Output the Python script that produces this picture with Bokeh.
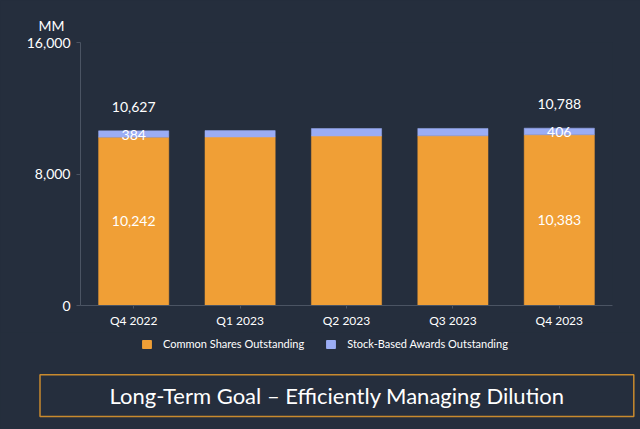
from bokeh.plotting import figure
from bokeh.layouts import column
from bokeh.models import (ColumnDataSource, FactorRange, Range1d, FixedTicker,
                          NumeralTickFormatter, Legend, LegendItem,
                          GlobalInlineStyleSheet)
from bokeh.core.properties import value
from bokeh.embed import file_html
from bokeh.resources import INLINE

# ---- data ----
quarters = ["Q4 2022", "Q1 2023", "Q2 2023", "Q3 2023", "Q4 2023"]
common_shares = [10242, 10250, 10310, 10320, 10383]
stock_awards = [384, 390, 455, 450, 406]
total_shares = [10627, 10640, 10765, 10770, 10788]
y_ticks = [0, 8000, 16000]
labelled = [0, 4]
series_names = ["Common Shares Outstanding", "Stock-Based Awards Outstanding"]
title_text = "Long-Term Goal \u2013 Efficiently Managing Dilution"
unit_text = "MM"

BG = "#252e3d"
ORANGE = "#f09f36"
BLUE = "#9badf5"
BORDER = "#c98a2e"
AXIS = "#4b5463"
FONT = "Lato"

W = 640
H1 = 332
H2 = 429 - H1

src = ColumnDataSource(dict(q=quarters, common=common_shares, sba=stock_awards))

p = figure(width=W, height=H1, output_backend="svg", toolbar_location=None,
           x_range=FactorRange(factors=quarters, range_padding=0),
           y_range=Range1d(0, 16000),
           min_border_left=80, min_border_right=28, min_border_top=42,
           min_border_bottom=27)
p.frame_align = False
p.background_fill_color = BG
p.border_fill_color = BG
p.outline_line_color = None
p.xgrid.visible = False
p.ygrid.visible = False

p.title.text = unit_text
p.title.align = "left"
p.title.offset = -42
p.title.standoff = 18
p.title.text_color = "white"
p.title.text_font = FONT
p.title.text_font_size = "14px"
p.title.text_font_style = "normal"

rs = p.vbar_stack(["common", "sba"], x="q", width=0.66, source=src,
                  fill_color=[ORANGE, BLUE], line_color=[ORANGE, BLUE], line_width=0.5)

# axes
ya = p.yaxis[0]
ya.ticker = FixedTicker(ticks=y_ticks)
ya.formatter = NumeralTickFormatter(format="0,0")
ya.axis_line_color = AXIS
ya.major_tick_line_color = AXIS
ya.major_tick_out = 4
ya.major_tick_in = 0
ya.minor_tick_line_color = None
ya.major_label_text_color = "white"
ya.major_label_text_font = FONT
ya.major_label_text_font_size = "14px"
ya.major_label_standoff = 6

xa = p.xaxis[0]
xa.axis_line_color = AXIS
xa.major_tick_line_color = AXIS
xa.major_tick_out = 3
xa.major_tick_in = 0
xa.major_label_text_color = "white"
xa.major_label_text_font = FONT
xa.major_label_text_font_size = "12px"
xa.major_label_standoff = 4

# data labels
lab = ColumnDataSource(dict(
    q=[quarters[i] for i in labelled],
    total=[common_shares[i] + stock_awards[i] for i in labelled],
    total_t=["{:,}".format(total_shares[i]) for i in labelled],
    sba_mid=[common_shares[i] + stock_awards[i] / 2 for i in labelled],
    sba_t=["{:,}".format(stock_awards[i]) for i in labelled],
    com_mid=[common_shares[i] / 2 for i in labelled],
    com_t=["{:,}".format(common_shares[i]) for i in labelled],
))
common_kw = dict(source=lab, text_color="white", text_align="center",
                 text_baseline="middle", text_font=value(FONT), text_font_size="14px")
p.text(x="q", y="total", text="total_t", y_offset=-24, **common_kw)
p.text(x="q", y="sba_mid", text="sba_t", y_offset=1, **common_kw)
p.text(x="q", y="com_mid", text="com_t", **common_kw)

# ---- bottom panel: legend + title box (pixel coordinates) ----
p2 = figure(width=W, height=H2, output_backend="svg", toolbar_location=None,
            x_range=Range1d(0, W), y_range=Range1d(0, H2),
            x_axis_type=None, y_axis_type=None, min_border=0)
p2.frame_align = False
p2.background_fill_color = BG
p2.border_fill_color = BG
p2.outline_line_color = None
p2.xgrid.visible = False
p2.ygrid.visible = False

# off-canvas proxies so that the legend swatches are drawn in this panel
k0 = p2.vbar(x=[-1000], top=[-1000], width=1, fill_color=ORANGE, line_color=ORANGE)
k1 = p2.vbar(x=[-1000], top=[-1000], width=1, fill_color=BLUE, line_color=BLUE)
legend = Legend(items=[LegendItem(label=series_names[0], renderers=[k0]),
                       LegendItem(label=series_names[1], renderers=[k1])],
                orientation="horizontal", location=(141, 429 - 350),
                glyph_width=11, glyph_height=10, label_standoff=11, spacing=21,
                padding=0, margin=0, border_line_color=None,
                background_fill_alpha=0,
                label_text_color="white", label_text_font=FONT,
                label_text_font_size="11px")
p2.add_layout(legend, "center")

p2.quad(left=[39.5], right=[633.3], top=[429 - 374.3], bottom=[429 - 416.0],
        fill_color=None, line_color=BORDER, line_width=1.5)
p2.text(x=[336.5], y=[429 - 395.0], text=[title_text], text_color="white",
        text_font=value(FONT), text_font_size="22px",
        text_align="center", text_baseline="middle")

layout = column(p, p2, spacing=0)
layout.stylesheets = [GlobalInlineStyleSheet(css="body{background:%s;}" % BG)]
open("out.html", "w").write(file_html(layout, INLINE))
